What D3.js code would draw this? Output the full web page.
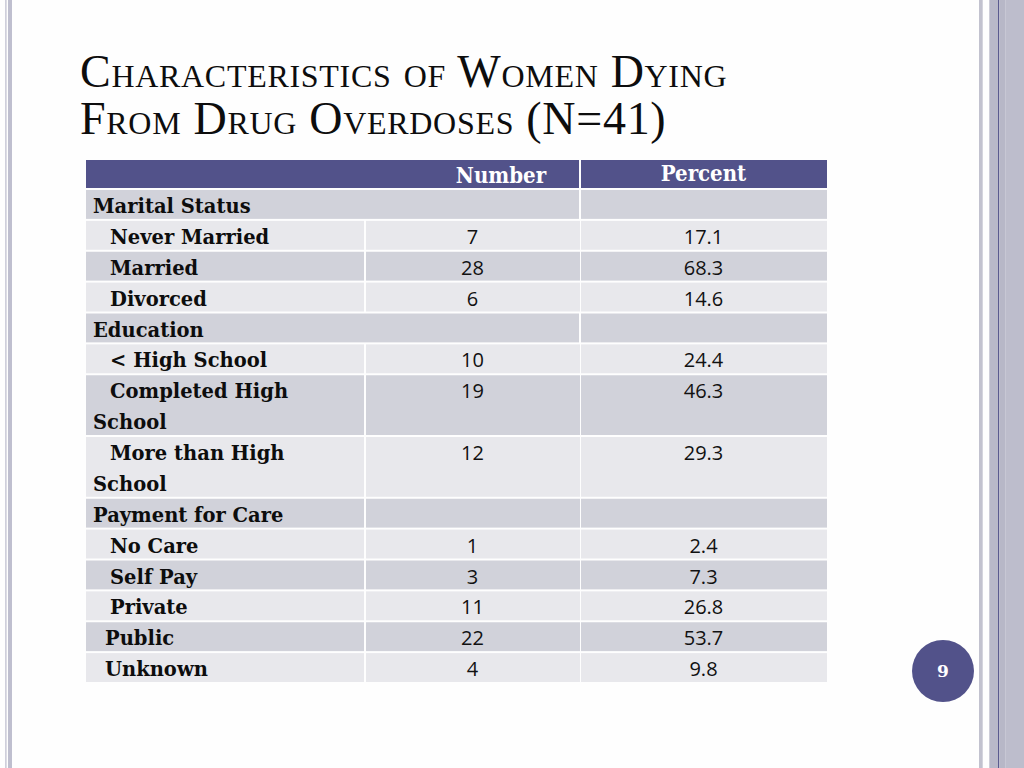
<!DOCTYPE html>
<html>
<head>
<meta charset="utf-8">
<script src="https://cdn.jsdelivr.net/npm/d3@7/dist/d3.min.js"></script>
<style>
  html, body { margin: 0; padding: 0; background: #fefefe; }
  svg { display: block; }
</style>
</head>
<body>
<svg id="slide" width="1024" height="768"></svg>
<script>
// ---- data ----
const titleLines = ["Characteristics of Women Dying", "From Drug Overdoses (N=41)"];
const columnHeaders = ["", "Number", "Percent"];
const categories = ["Marital Status", "Never Married", "Married", "Divorced",
  "Education", "< High School", "Completed High School", "More than High School",
  "Payment for Care", "No Care", "Self Pay", "Private", "Public", "Unknown"];
const numbers  = [null, 7, 28, 6, null, 10, 19, 12, null, 1, 3, 11, 22, 4];
const percents = [null, "17.1", "68.3", "14.6", null, "24.4", "46.3", "29.3", null, "2.4", "7.3", "26.8", "53.7", "9.8"];
const pageNumber = "9";

// ---- layout helpers (not data) ----
const groupHeads = new Set(["Marital Status", "Education", "Payment for Care"]);
const mergedHeads = new Set(["Marital Status", "Education"]);
const wrapMap = { "Completed High School": ["Completed High", "School"],
                  "More than High School": ["More than High", "School"] };
const shallow = new Set(["Public", "Unknown"]);

const svg = d3.select("#slide");
const W = 1024, H = 768;

// decorative side bars
const deco = [
  {x: 5, w: 1.7, c: "#cfcfdb"}, {x: 8, w: 4, c: "#bfbfcf"},
  {x: 979, w: 3.7, c: "#c2c2cf"}, {x: 989.3, w: 9, c: "#b9b9c9"},
  {x: 998, w: 1.3, c: "#5b5b8f"}, {x: 999.3, w: 6.4, c: "#b7b7c7"},
  {x: 1005.7, w: 18.3, c: "#bdbdcc"}
];
svg.selectAll("rect.deco").data(deco).join("rect")
  .attr("class", "deco").attr("x", d => d.x).attr("y", 0)
  .attr("width", d => d.w).attr("height", H).attr("fill", d => d.c);

// title
svg.selectAll("text.title").data(titleLines).join("text")
  .attr("class", "title")
  .attr("x", 80).attr("y", (d, i) => 87 + i * 47)
  .attr("font-family", "'Liberation Serif', 'DejaVu Serif', serif")
  .attr("font-size", 46)
  .attr("letter-spacing", 0.7)
  .style("font-variant", "small-caps")
  .attr("fill", "#0d0d0d")
  .text(d => d);

// table scales
const colEdges = [86, 365, 580, 827];
const x = d3.scaleOrdinal().domain([0, 1, 2]).range(colEdges.slice(0, 3));
const colW = i => colEdges[i + 1] - colEdges[i];

const units = categories.map(c => wrapMap[c] ? 2 : 1);
const cum = d3.cumsum(units);
const starts = units.map((u, i) => cum[i] - u);
const totalUnits = d3.sum(units);
const y = d3.scaleLinear().domain([0, totalUnits]).range([190, 684]);

const darkFill = "#d1d2da", lightFill = "#e8e8ec", headFill = "#52528a";
const gap = 2;

// header
const headerG = svg.append("g");
headerG.append("rect").attr("x", colEdges[0]).attr("y", 160)
  .attr("width", colEdges[2] - colEdges[0] - 1).attr("height", 28).attr("fill", headFill);
headerG.append("rect").attr("x", colEdges[2] + 1).attr("y", 160)
  .attr("width", colEdges[3] - colEdges[2] - 1).attr("height", 28).attr("fill", headFill);
headerG.selectAll("text").data(columnHeaders.slice(1)).join("text")
  .attr("x", (d, i) => i === 0 ? 501 : (colEdges[2] + colEdges[3]) / 2)
  .attr("y", (d, i) => i === 0 ? 183 : 181)
  .attr("text-anchor", "middle")
  .attr("font-family", "'DejaVu Serif Condensed', 'DejaVu Serif', serif")
  .attr("font-weight", "bold")
  .attr("font-size", 22)
  .attr("fill", "#ffffff")
  .text(d => d);

// rows
const numFont = "'Open Sans', 'Noto Sans', sans-serif";
const rows = svg.selectAll("g.row").data(categories).join("g").attr("class", "row");
rows.each(function(cat, i) {
  const g = d3.select(this);
  const top = y(starts[i]);
  const h = y(starts[i] + units[i]) - top - gap;
  const fill = i % 2 === 0 ? darkFill : lightFill;
  let cells;
  if (mergedHeads.has(cat)) {
    cells = [{x: colEdges[0], w: colEdges[2] - colEdges[0] - 1}, {x: colEdges[2] + 1, w: colEdges[3] - colEdges[2] - 1}];
  } else {
    cells = [0, 1, 2].map(k => ({x: x(k) + (k ? 1 : 0), w: colW(k) - 1}));
  }
  g.selectAll("rect").data(cells).join("rect")
    .attr("x", d => d.x).attr("y", top).attr("width", d => d.w).attr("height", h)
    .attr("fill", fill);

  const lines = wrapMap[cat] || [cat];
  const indent = groupHeads.has(cat) ? 93 : (shallow.has(cat) ? 105 : 110);
  g.selectAll("text.label").data(lines).join("text")
    .attr("class", "label")
    .attr("x", (d, k) => k === 0 ? indent : 93)
    .attr("y", (d, k) => top + 23 + k * 31)
    .attr("font-family", "'DejaVu Serif', serif")
    .attr("font-weight", "bold")
    .attr("font-size", 19.5)
    .attr("fill", "#0d0d0d")
    .text(d => d);

  if (numbers[i] !== null) {
    const vals = [numbers[i], percents[i]];
    g.selectAll("text.val").data(vals).join("text")
      .attr("class", "val")
      .attr("x", (d, k) => x(k + 1) + colW(k + 1) / 2)
      .attr("y", top + 23)
      .attr("text-anchor", "middle")
      .attr("font-family", numFont)
      .attr("font-size", 20).attr("fill", "#111")
      .text(d => d);
  }
});

// page number badge
svg.append("circle").attr("cx", 943).attr("cy", 671).attr("r", 31).attr("fill", headFill);
svg.append("text").attr("x", 943).attr("y", 677).attr("text-anchor", "middle")
  .attr("font-family", "'DejaVu Serif', serif").attr("font-weight", "bold")
  .attr("font-size", 17).attr("fill", "#fff").text(pageNumber);
</script>
</body>
</html>
